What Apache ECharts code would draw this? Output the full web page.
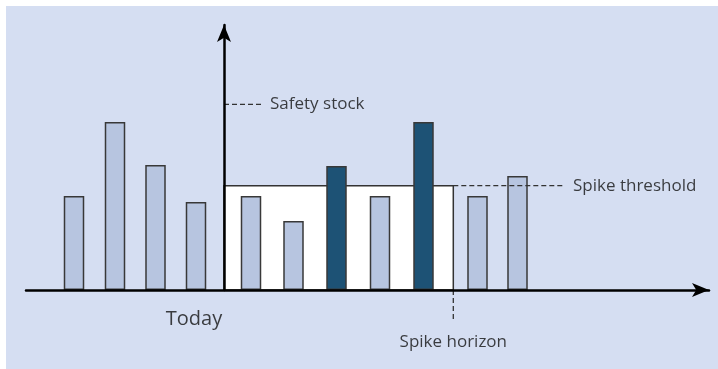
<!DOCTYPE html>
<html>
<head>
<meta charset="utf-8">
<script src="https://cdn.jsdelivr.net/npm/echarts@6/dist/echarts.min.js"></script>
<style>
    html, body {
        margin: 0;
        padding: 0;
        background: #fff;
    }
    #chart {
        position: absolute;
        left: 6px;
        top: 6px;
        width: 712px;
        height: 363px;
    }
</style>
</head>
<body>
<div id="chart"></div>
<script>
// bar positions relative to "today" (y axis) and bar heights
const periods = [-150, -109, -68.5, -28, 27, 69.5, 112.5, 156, 199.5, 253.5, 293.5]
const demand = [94, 168, 125, 88, 94, 69, 124, 94, 168, 94, 114]
const isSpike = [false, false, false, false, false, false, true, false, true, false, false]

// reference levels
const safetyStock = 185.7
const spikeThreshold = 104.3
const spikeHorizon = 229.3

// dashed guide lines
const safetyLine = [[0, safetyStock], [38, safetyStock]]
const thresholdLine = [[spikeHorizon, spikeThreshold], [339, spikeThreshold]]
const horizonLine = [[spikeHorizon, 0], [spikeHorizon, -31]]

// annotation texts: [x, y, text]
const notes = [
    [38, safetyStock, 'Safety stock'],
    [339, spikeThreshold, 'Spike threshold'],
    [spikeHorizon, -52, 'Spike horizon'],
    [-30, -29, 'Today'],
]

const LIGHT = '#b7c5e0'
const DARK = '#1d5275'
const INK = '#111'
const FONT = 'Open Sans'

const chart = echarts.init(document.getElementById('chart'))

const dashed = (data) => ({
    type: 'line',
    data: data,
    symbol: 'none',
    clip: false,
    silent: true,
    lineStyle: { color: '#333', width: 1.3, type: [5, 3] },
    z: 2,
})

chart.setOption({
    backgroundColor: '#d5def2',
    animation: false,
    grid: { left: 20, right: 9, top: 19, bottom: 79 },
    xAxis: {
        type: 'value',
        min: -198,
        max: 485,
        z: 5,
        axisLine: {
            show: true,
            symbol: ['none', 'arrow'],
            symbolSize: [10.5, 17],
            lineStyle: { color: '#000', width: 2.5 },
        },
        axisTick: { show: false },
        axisLabel: { show: false },
        splitLine: { show: false },
    },
    yAxis: {
        type: 'value',
        min: 0,
        max: 265,
        z: 5,
        axisLine: {
            show: true,
            onZero: true,
            symbol: ['none', 'arrow'],
            symbolSize: [10.5, 17],
            lineStyle: { color: '#000', width: 2.5 },
        },
        axisTick: { show: false },
        axisLabel: { show: false },
        splitLine: { show: false },
    },
    series: [
        {
            type: 'bar',
            barWidth: 20.5,
            data: periods.map((x, i) => ({
                value: [x, demand[i]],
                itemStyle: { color: isSpike[i] ? DARK : LIGHT },
            })),
            itemStyle: { borderColor: '#383838', borderWidth: 1.5 },
            markArea: {
                silent: true,
                itemStyle: { color: '#fff', borderColor: '#333', borderWidth: 1.5 },
                data: [[{ coord: [0, 0] }, { coord: [spikeHorizon, spikeThreshold] }]],
            },
        },
        dashed(safetyLine),
        dashed(thresholdLine),
        dashed(horizonLine),
        {
            type: 'scatter',
            symbolSize: 0,
            clip: false,
            silent: true,
            data: notes.map((n) => ({
                value: [n[0], n[1]],
                label: {
                    show: true,
                    formatter: n[2],
                    position: n[0] === 38 || n[0] === 339 ? 'right' : 'inside',
                    distance: n[0] === 38 ? 8 : 10,
                    fontSize: n[2] === 'Today' ? 20 : 17,
                    color: INK,
                    fontFamily: FONT,
                },
            })),
        },
    ],
})
</script>
</body>
</html>
